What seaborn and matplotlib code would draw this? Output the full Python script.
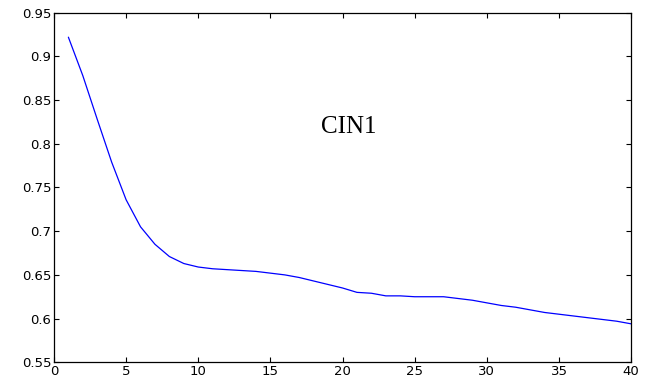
import numpy as np
import pandas as pd
import matplotlib
matplotlib.use('Agg')
import matplotlib.pyplot as plt
import seaborn as sns

# 迭代次数与对应数值
iters = list(range(1, 41))
values = [0.922, 0.878, 0.828, 0.779, 0.736, 0.705, 0.685, 0.671, 0.663, 0.659,
          0.657, 0.656, 0.655, 0.654, 0.652, 0.650, 0.647, 0.643, 0.639, 0.635,
          0.630, 0.629, 0.626, 0.626, 0.625, 0.625, 0.625, 0.623, 0.621, 0.618,
          0.615, 0.613, 0.610, 0.607, 0.605, 0.603, 0.601, 0.599, 0.597, 0.594]
x_ticks = [0, 5, 10, 15, 20, 25, 30, 35, 40]
y_ticks = [0.55, 0.6, 0.65, 0.7, 0.75, 0.8, 0.85, 0.9, 0.95]
y_tick_labels = ['0.55', '0.6', '0.65', '0.7', '0.75', '0.8', '0.85', '0.9', '0.95']
label_text = 'CIN1'

sns.set_style('ticks')
plt.rcParams['font.family'] = ['DejaVu Sans']
plt.rcParams['text.color'] = 'black'

df = pd.DataFrame({'iter': iters, 'value': values})

fig = plt.figure(figsize=(6.5, 3.85), dpi=100)
ax = fig.add_axes([0.083, 0.059, 0.888, 0.908])
sns.lineplot(data=df, x='iter', y='value', color='#0000ff', linewidth=0.9, ax=ax)

ax.set_xlim(0, 40)
ax.set_ylim(0.55, 0.95)
ax.set_xticks(x_ticks)
ax.set_yticks(y_ticks)
ax.set_yticklabels(y_tick_labels)
ax.set_xlabel('')
ax.set_ylabel('')
ax.tick_params(direction='in', top=True, right=True, length=3.5, width=0.8,
               labelsize=9.5, pad=2, colors='black')
for s in ax.spines.values():
    s.set_visible(True)
    s.set_color('black')
    s.set_linewidth(0.9)

ax.text(20.4, 0.819, label_text, ha='center', va='center', fontsize=18,
        color='black', family=['Liberation Serif', 'DejaVu Serif'])

fig.savefig('out.png', dpi=100)
plt.close()
